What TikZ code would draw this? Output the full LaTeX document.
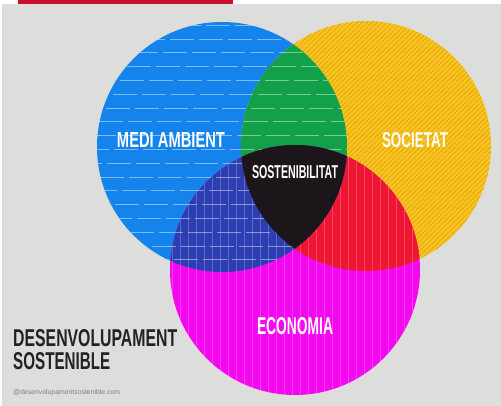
\documentclass[tikz,border=0pt]{standalone}
\usepackage{fontspec}
\setmainfont{Liberation Sans}
\usepackage{graphicx}
\definecolor{bgg}{RGB}{221,221,219}
\definecolor{topred}{RGB}{200,16,46}
\definecolor{cblue}{RGB}{20,132,236}
\definecolor{cyel}{RGB}{250,196,32}
\definecolor{cmag}{RGB}{243,8,240}
\definecolor{cgreen}{RGB}{18,160,72}
\definecolor{cred}{RGB}{238,22,50}
\definecolor{cdblue}{RGB}{45,62,178}
\definecolor{cblack}{RGB}{28,22,26}
\definecolor{ctitle}{RGB}{34,34,34}
\definecolor{stripe}{RGB}{190,126,0}
\newcommand{\fitt}[3]{\resizebox{#1pt}{#2pt}{\bfseries #3}}
\tikzset{
  wlbl/.style={inner sep=0pt, text=white},
  blbl/.style={inner sep=0pt, text=ctitle, anchor=west},
}
\begin{document}
\begin{tikzpicture}[x=1pt,y=-1pt]
\useasboundingbox (0,0) rectangle (501,406);
\fill[white] (0,0) rectangle (501,406);
\fill[bgg] (2,4) rectangle (501,406);
\fill[topred] (18,0) rectangle (233,4);
% circles
\def\blue{(222,147) circle (125)}
\def\yel{(366,146) circle (125)}
\def\mag{(295,270) circle (125)}
\fill[cblue] \blue;
\fill[cyel] \yel;
\fill[cmag] \mag;
% yellow texture
\begin{scope}
  \clip \yel;
  \foreach \i in {-60,-55,...,500} {
    \draw[stripe, opacity=0.5, line width=0.6pt] (\i,285) -- (\i+290,0);
  }
\end{scope}
% overlaps
\begin{scope}
  \clip \blue; \fill[cgreen] \yel;
\end{scope}
\begin{scope}
  \clip \yel; \fill[cred] \mag;
\end{scope}
\begin{scope}
  \clip \blue; \fill[cdblue] \mag;
\end{scope}
% blue texture
\begin{scope}
  \clip \blue;
  \foreach \k in {0,...,17} {
    \draw[white, opacity=0.45, line width=0.5pt, dash pattern=on 24pt off 5pt, dash phase=\k*7]
      (90,25+\k*13.8) -- (360,25+\k*13.8);
  }
\end{scope}
% magenta texture
\begin{scope}
  \clip \mag;
  \foreach \i in {172,180,...,420} {
    \draw[white, opacity=0.22, line width=0.5pt] (\i,140) -- (\i,400);
  }
\end{scope}
% centre
\begin{scope}
  \clip \blue; \clip \yel; \fill[cblack] \mag;
\end{scope}
% labels
\node[wlbl] (medi) at (171,140.5) {\fitt{108}{15}{MEDI AMBIENT}};
\node[wlbl] (soc) at (415,140.5) {\fitt{66}{15}{SOCIETAT}};
\node[wlbl] (sost) at (295,172.5) {\fitt{86}{13}{SOSTENIBILITAT}};
\node[wlbl] (eco) at (295,326.5) {\fitt{76}{17}{ECONOMIA}};
\node[blbl] (t1) at (13,338.5) {\fitt{164}{17}{DESENVOLUPAMENT}};
\node[blbl] (t2) at (13,361.5) {\fitt{97}{17}{SOSTENIBLE}};
\node[inner sep=0pt, anchor=west, text=gray] (src) at (13,393) {\resizebox{107pt}{5pt}{@desenvolupamentsostenible.com}};
\end{tikzpicture}
\end{document}
